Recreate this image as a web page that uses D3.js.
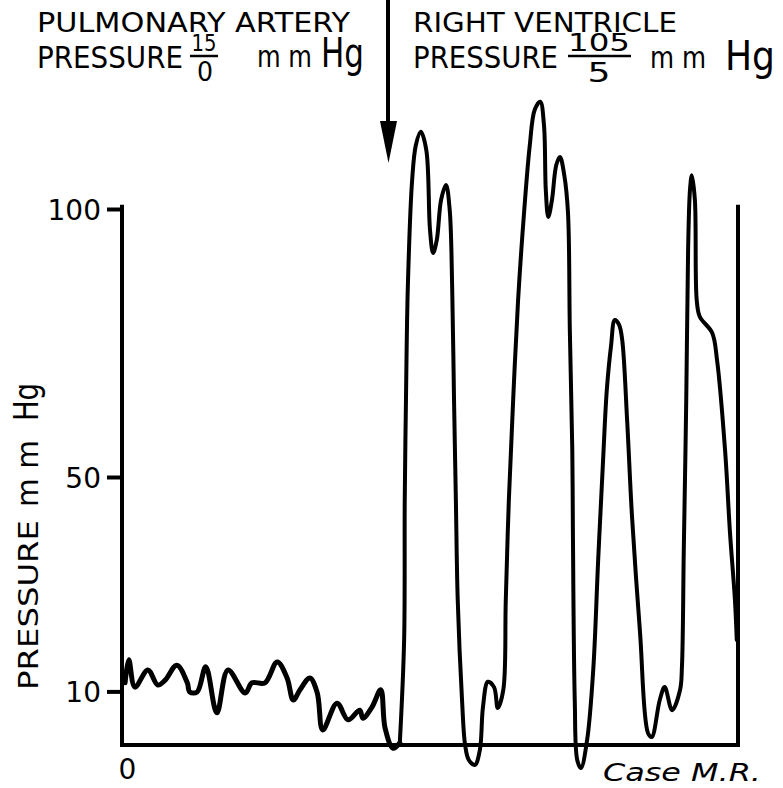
<!DOCTYPE html>
<html>
<head>
<meta charset="utf-8">
<script src="https://cdnjs.cloudflare.com/ajax/libs/d3/7.8.5/d3.min.js"></script>
<style>
  body { margin: 0; background: #fff; }
  svg { display: block; }
  text { font-family: "DejaVu Sans", sans-serif; fill: #000; }
</style>
</head>
<body>
<div id="chart"></div>
<script>
// pulmonary artery trace (time in arbitrary units 0-100, pressure mm Hg)
var paTime = [0.5, 1.1, 2.1, 4.2, 5.8, 7.0, 8.9, 10.6, 11.0, 12.2, 13.6, 15.4, 17.2, 20.0, 21.1, 23.2,
  25.2, 26.8, 27.8, 28.9, 30.5, 31.7, 32.6, 34.9, 36.7, 38.6, 39.1, 40.6, 42.0, 42.7, 44.0, 45.1];
var paPressure = [11.6, 15.9, 10.8, 14.0, 11.2, 12.1, 14.9, 11.6, 9.9, 9.9, 14.6, 6.0, 14.0, 9.7, 11.6, 11.6,
  15.5, 12.5, 8.4, 10.3, 12.5, 9.7, 2.8, 7.8, 4.7, 6.5, 5.0, 7.1, 10.3, 3.2, -0.6, 0.4];

// right ventricle trace
var rvTime = [45.1, 45.8, 45.9, 46.1, 46.4, 47.1, 47.7, 48.5, 49.4, 50.0, 50.5, 51.1, 51.8, 52.6, 53.2, 53.6,
  53.9, 54.2, 54.5, 55.2, 55.7, 56.3, 57.3, 58.1, 58.6, 59.4, 60.4, 61.0, 61.9, 62.3, 62.8, 63.5,
  64.3, 65.3, 66.2, 67.0, 67.9, 68.5, 68.8, 69.2, 69.8, 70.5, 71.1, 71.8, 72.4, 72.7, 73.1,
  73.2, 73.5, 73.9, 74.5, 75.5, 76.5, 77.3, 78.1, 78.7, 79.4, 80.0, 80.7, 81.2, 82.0, 82.8, 84.1,
  85.4, 86.0, 87.3, 88.1, 89.3, 90.6, 90.9, 91.2, 91.6, 91.9, 92.2, 92.5, 93.0, 93.3, 93.8, 95.8,
  96.6, 97.9, 98.7, 99.5, 99.8];
var rvPressure = [0.4, 19.6, 45.7, 64.4, 85.4, 105.4, 111.9, 114.4, 111.0, 96.1, 91.8, 94.2, 101.7, 104.5, 99.8, 85.4,
  64.4, 45.7, 27.1, 8.4, 0, -2.8, -3.7, -0.9, 7.1, 11.8, 10.8, 6.9, 10.3, 26.9, 45.7, 64.4,
  83.0, 99.8, 111.9, 118.5, 120.0, 115.7, 103.5, 98.5, 101.7, 108.2, 109.7, 106.3, 99.3, 77.4, 55.0,
  39.6, 8.4, -2.8, -4.3, 0.9, 14.0, 34.5, 53.2, 66.2, 74.6, 79.3, 78.4, 75.6, 60.6, 42.5, 20.9,
  2.2, 1.5, 8.4, 10.8, 6.5, 10.3, 14.6, 36.4, 64.4, 92.4, 103.5, 106.3, 101.7, 83.0, 79.9, 76.9,
  71.8, 55.0, 39.6, 27.1, 19.6];

var yTicks = [10, 50, 100];
var xTicks = [0];
var frameTop = 100.8;

var W = 783, H = 788;
var svg = d3.select("#chart").append("svg").attr("width", W).attr("height", H);
svg.append("rect").attr("width", W).attr("height", H).attr("fill", "#fff");

var x = d3.scaleLinear().domain([0, 100]).range([122, 738]);
var y = d3.scaleLinear().domain([0, 100]).range([745, 209]);

// y axis
var yAxis = d3.axisLeft(y).tickValues(yTicks).tickSize(15).tickPadding(6).tickSizeOuter(0);
var gy = svg.append("g").attr("transform", "translate(" + x(0) + ",0)").call(yAxis);
gy.select(".domain").remove();
gy.selectAll(".tick line").attr("stroke", "#000").attr("stroke-width", 4);
gy.selectAll(".tick text").attr("font-size", 28).attr("font-family", "DejaVu Sans")
  .attr("fill", "#000").attr("dy", "0.36em");
svg.append("line").attr("x1", x(0)).attr("x2", x(0)).attr("y1", y(frameTop)).attr("y2", y(0) + 2)
  .attr("stroke", "#000").attr("stroke-width", 4);

// x axis
var xAxis = d3.axisBottom(x).tickValues(xTicks).tickSize(0).tickPadding(14).tickSizeOuter(0);
var gx = svg.append("g").attr("transform", "translate(0," + y(0) + ")").call(xAxis);
gx.select(".domain").remove();
gx.selectAll(".tick text").attr("font-size", 28).attr("font-family", "DejaVu Sans")
  .attr("fill", "#000").attr("dx", 5);
svg.append("line").attr("x1", x(0) - 2).attr("x2", x(100) + 2).attr("y1", y(0)).attr("y2", y(0))
  .attr("stroke", "#000").attr("stroke-width", 4);

// right frame line
svg.append("line").attr("x1", x(100)).attr("x2", x(100)).attr("y1", y(frameTop)).attr("y2", y(0))
  .attr("stroke", "#000").attr("stroke-width", 4);

// traces
var line = d3.line()
  .x(function(d) { return x(d[0]); })
  .y(function(d) { return y(d[1]); })
  .curve(d3.curveCatmullRom.alpha(0.5));

var pa = paTime.map(function(t, i) { return [t, paPressure[i]]; });
var rv = rvTime.map(function(t, i) { return [t, rvPressure[i]]; });

svg.append("path").datum(pa).attr("d", line).attr("fill", "none")
  .attr("stroke", "#000").attr("stroke-width", 5).attr("stroke-linejoin", "round").attr("stroke-linecap", "round");
svg.append("path").datum(rv).attr("d", line).attr("fill", "none")
  .attr("stroke", "#000").attr("stroke-width", 4).attr("stroke-linejoin", "round").attr("stroke-linecap", "round");

// divider arrow
svg.append("line").attr("x1", 388).attr("x2", 388).attr("y1", 0).attr("y2", 126)
  .attr("stroke", "#000").attr("stroke-width", 4);
svg.append("path").attr("d", "M380,121 L397,121 L388.5,163 Z").attr("fill", "#000");

// header text
function txt(s, px, py, size, len, opts) {
  var t = svg.append("text").attr("x", px).attr("y", py).attr("font-size", size).text(s);
  if (len) t.attr("textLength", len).attr("lengthAdjust", "spacingAndGlyphs");
  if (opts && opts.anchor) t.attr("text-anchor", opts.anchor);
  if (opts && opts.italic) t.attr("font-style", "italic");
  return t;
}

txt("PULMONARY ARTERY", 37, 32, 26, 313);
txt("PRESSURE", 37, 68, 30, 146);
txt("15", 204, 51, 23, 25, { anchor: "middle" });
svg.append("line").attr("x1", 190).attr("x2", 218).attr("y1", 56).attr("y2", 56).attr("stroke", "#000").attr("stroke-width", 2.5);
txt("0", 205, 81, 27, 16, { anchor: "middle" });
txt("m m", 257, 67, 30, 55);
txt("Hg", 321, 67, 40, 43);

txt("RIGHT VENTRICLE", 413, 32, 26, 264);
txt("PRESSURE", 413, 68, 30, 145);
txt("105", 599, 51, 24, 62, { anchor: "middle" });
svg.append("line").attr("x1", 568).attr("x2", 631).attr("y1", 56).attr("y2", 56).attr("stroke", "#000").attr("stroke-width", 2.5);
txt("5", 599, 82, 27, 23, { anchor: "middle" });
txt("m m", 650, 68, 30, 56);
txt("Hg", 725, 70, 40, 50);

// y axis title
var yt = svg.append("g").attr("transform", "translate(38,0)");
yt.append("text").attr("transform", "translate(0,690) rotate(-90)").attr("font-size", 27)
  .attr("textLength", 170).attr("lengthAdjust", "spacingAndGlyphs").text("PRESSURE");
yt.append("text").attr("transform", "translate(0,507) rotate(-90)").attr("font-size", 30)
  .attr("textLength", 67).attr("lengthAdjust", "spacingAndGlyphs").text("m m");
yt.append("text").attr("transform", "translate(0,421) rotate(-90)").attr("font-size", 34)
  .attr("textLength", 38).attr("lengthAdjust", "spacingAndGlyphs").text("Hg");

// case label
txt("Case  M.R.", 603, 781, 25, 158, { italic: true });
</script>
</body>
</html>
